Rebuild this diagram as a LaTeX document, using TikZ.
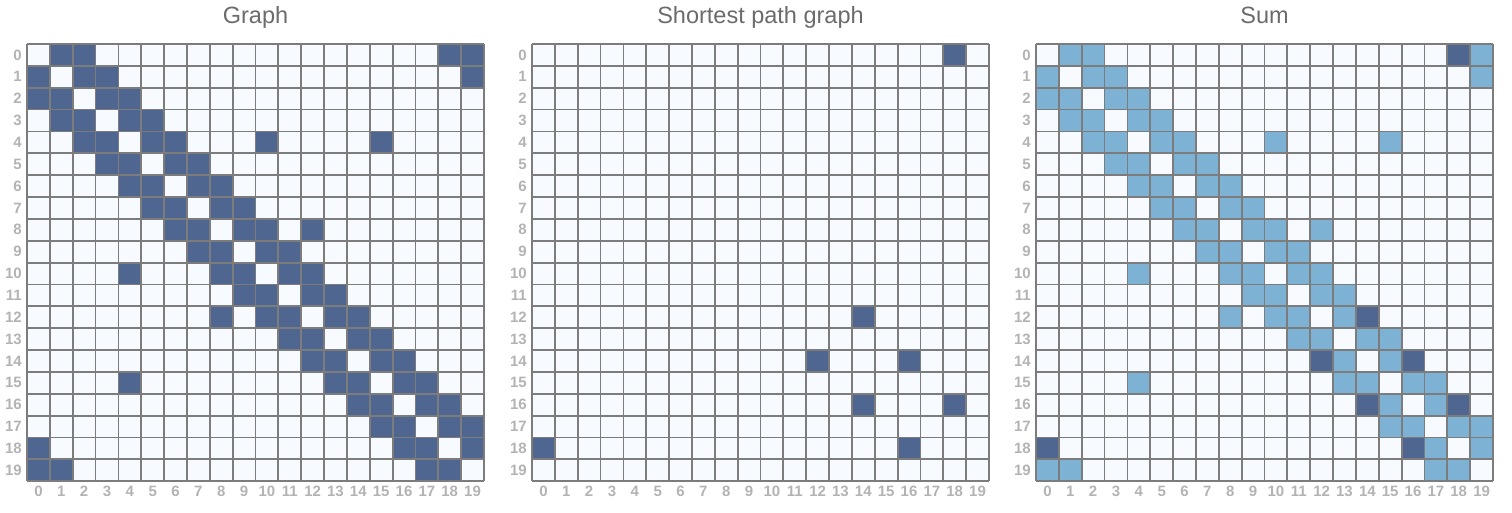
\documentclass[tikz,border=0pt]{standalone}
\usepackage{fontspec}
\setmainfont{Liberation Sans}
\definecolor{cdark}{HTML}{4F6690}
\definecolor{clight}{HTML}{7EB2D5}
\definecolor{cbg}{HTML}{F7FBFF}
\definecolor{cgrid}{HTML}{7C7C7C}
\definecolor{ctick}{HTML}{B3B3B3}
\definecolor{ctitle}{HTML}{6B6B6B}
\begin{document}
\begin{tikzpicture}[x=1pt,y=-1pt,
  ticklab/.style={text=ctick,font=\fontsize{15}{15}\selectfont\bfseries,inner sep=0pt},
  titlelab/.style={text=ctitle,font=\fontsize{23.5}{23.5}\selectfont,inner sep=0pt,anchor=base},
  gridline/.style={draw=cgrid,line width=1.8pt}]
\useasboundingbox (0,0) rectangle (1512,513);
\def\cw{22.85}
\def\ch{21.86}
\def\ytop{44}
\def\edges{0/1,0/2,0/18,0/19,1/2,1/3,1/19,2/3,2/4,3/4,3/5,4/5,4/6,4/10,4/15,5/6,5/7,6/7,6/8,7/8,7/9,8/9,8/10,8/12,9/10,9/11,10/11,10/12,11/12,11/13,12/13,12/14,13/14,13/15,14/15,14/16,15/16,15/17,16/17,16/18,17/18,17/19,18/19}
\def\spedges{0/18,12/14,14/16,16/18}
% cell macro: x0, row, col, colour
\newcommand\mycell[4]{\fill[#4] ({#1+#3*\cw},{\ytop+#2*\ch}) rectangle ++(\cw,\ch);}
\newcommand\mygrid[1]{%
  \foreach \i in {0,...,20}{
    \draw[gridline] ({#1+\i*\cw},\ytop) -- ({#1+\i*\cw},{\ytop+20*\ch});
    \draw[gridline] (#1,{\ytop+\i*\ch}) -- ({#1+20*\cw},{\ytop+\i*\ch});
  }
  \foreach \i in {0,...,19}{
    \node[ticklab,anchor=east] (yl#1-\i) at ({#1-5},{\ytop+(\i+0.5)*\ch}) {\i};
    \node[ticklab] (xl#1-\i) at ({#1+(\i+0.5)*\cw},491.7) {\i};
  }}
% grid 1
\fill[cbg] (27,\ytop) rectangle ++({20*\cw},{20*\ch});
\foreach \a/\b in \edges {\mycell{27}{\a}{\b}{cdark}\mycell{27}{\b}{\a}{cdark}}
\mygrid{27}
% grid 2
\fill[cbg] (532,\ytop) rectangle ++({20*\cw},{20*\ch});
\foreach \a/\b in \spedges {\mycell{532}{\a}{\b}{cdark}\mycell{532}{\b}{\a}{cdark}}
\mygrid{532}
% grid 3
\fill[cbg] (1036,\ytop) rectangle ++({20*\cw},{20*\ch});
\foreach \a/\b in \edges {\mycell{1036}{\a}{\b}{clight}\mycell{1036}{\b}{\a}{clight}}
\foreach \a/\b in \spedges {\mycell{1036}{\a}{\b}{cdark}\mycell{1036}{\b}{\a}{cdark}}
\mygrid{1036}
% titles
\node[titlelab] (t1) at ({27+10*\cw},24) {Graph};
\node[titlelab] (t2) at ({532+10*\cw},24) {Shortest path graph};
\node[titlelab] (t3) at ({1036+10*\cw},24) {Sum};
\end{tikzpicture}
\end{document}
